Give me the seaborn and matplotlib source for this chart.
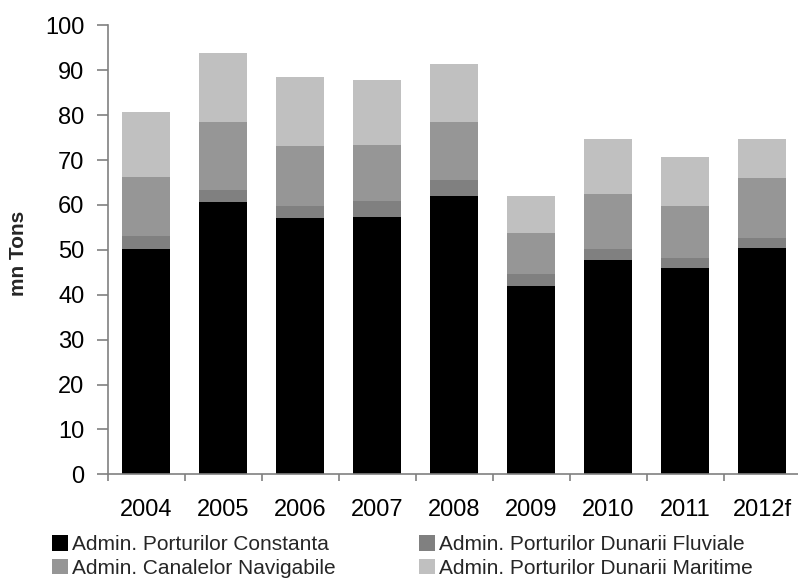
import numpy as np
import pandas as pd
import matplotlib
matplotlib.use("Agg")
import matplotlib.pyplot as plt
import seaborn as sns
from matplotlib.patches import Patch

years = ["2004", "2005", "2006", "2007", "2008", "2009", "2010", "2011", "2012f"]
constanta = [50.2, 60.6, 57.0, 57.3, 62.0, 41.9, 47.7, 46.0, 50.4]
dunarii_fluviale = [2.9, 2.7, 2.7, 3.6, 3.6, 2.7, 2.5, 2.2, 2.3]
canalelor = [13.1, 15.2, 13.4, 12.4, 12.9, 9.1, 12.2, 11.6, 13.3]
dunarii_maritime = [14.5, 15.3, 15.4, 14.5, 12.9, 8.3, 12.3, 10.9, 8.7]

series_names = [
    "Admin. Porturilor Constanta",
    "Admin. Porturilor Dunarii Fluviale",
    "Admin. Canalelor Navigabile",
    "Admin. Porturilor Dunarii Maritime",
]
series_values = [constanta, dunarii_fluviale, canalelor, dunarii_maritime]
colors = ["#000000", "#808080", "#969696", "#c0c0c0"]

sns.set_theme(style="white")
plt.rcParams["font.family"] = ["Liberation Sans", "DejaVu Sans"]

df = pd.DataFrame({"year": years})
cum = np.zeros(len(years))
for name, vals in zip(series_names, series_values):
    cum = cum + np.array(vals)
    df[name] = cum

W, H = 798, 581
fig = plt.figure(figsize=(W / 100, H / 100), dpi=100)
ax = fig.add_axes([107.5 / W, (H - 474.3) / H, 693 / W, 449 / H])

# stacked bars: draw cumulative totals from the top layer down
for name, col in reversed(list(zip(series_names, colors))):
    sns.barplot(data=df, x="year", y=name, color=col, width=0.635,
                saturation=1, ax=ax, linewidth=0, edgecolor="none")

ax.set_xlim(-0.5, 8.5)
ax.set_ylim(0, 100)
ax.set_yticks(np.arange(0, 101, 10))
ax.set_xlabel("")
ax.set_ylabel("")
fig.text(19 / W, 1 - 253 / H, "mn Tons", rotation=90, ha="center",
         va="center", fontsize=15, fontweight="bold")

for s in ["top", "right"]:
    ax.spines[s].set_visible(False)
for s in ["left", "bottom"]:
    ax.spines[s].set_color("#808080")
    ax.spines[s].set_linewidth(1.2)

ax.tick_params(axis="y", which="major", direction="out", length=8, width=1.2,
               color="#808080", labelsize=17, pad=8.5, left=True,
               labelcolor="black")
ax.set_xticks(np.arange(-0.5, 9, 1), minor=True)
ax.tick_params(axis="x", which="minor", direction="out", length=5, width=1.2,
               color="#808080", bottom=True)
ax.tick_params(axis="x", which="major", length=0, labelsize=17, pad=18,
               labelcolor="black")

handles = [Patch(facecolor=c, edgecolor="none") for c in colors]
order = [0, 2, 1, 3]
fig.legend([handles[i] for i in order], [series_names[i] for i in order],
           ncol=2, loc="upper left", bbox_to_anchor=(52 / W, 1 - 535 / H),
           frameon=False, fontsize=15, handlelength=0.77, handleheight=0.77,
           handletextpad=0.2, columnspacing=4.0, labelspacing=0.23,
           borderpad=0, borderaxespad=0)

fig.savefig("out.png", dpi=100)
